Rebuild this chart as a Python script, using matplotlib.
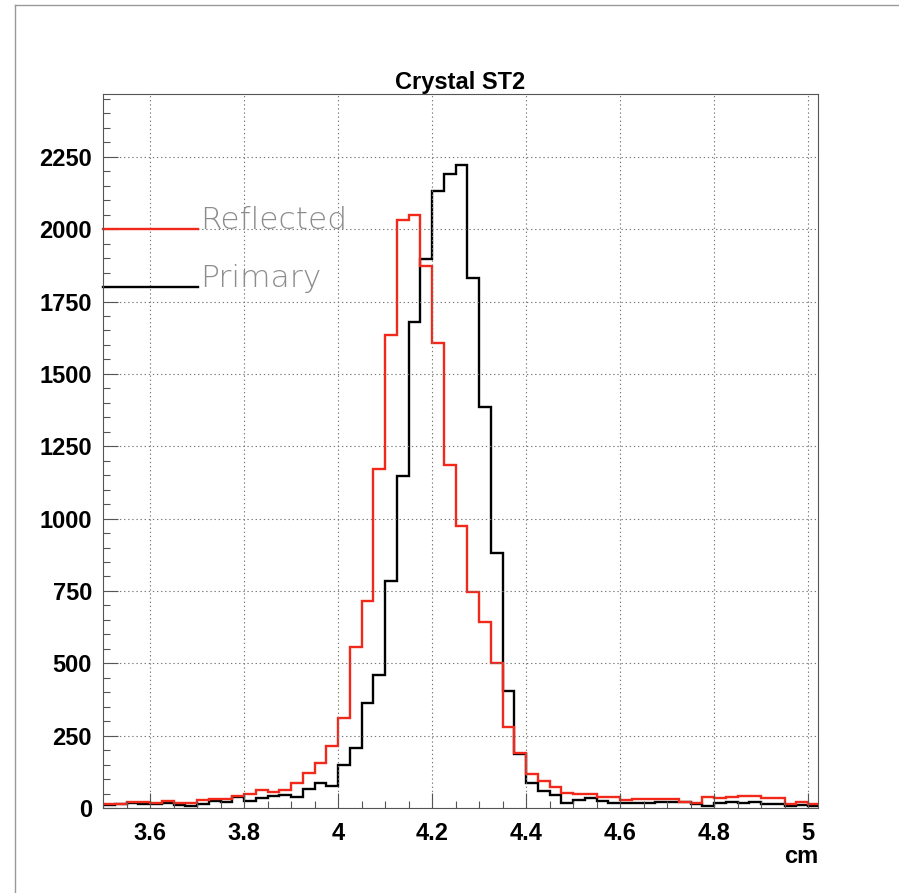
import numpy as np
import matplotlib.pyplot as plt
from matplotlib.lines import Line2D

# ======================
# data
# ======================
x_lo = 3.5
bin_w = 0.025

reflected = [14, 14, 20, 20, 16, 25, 19, 19, 28, 31,
             30, 40, 48, 62, 54, 62, 87, 122, 157, 214,
             310, 558, 715, 1171, 1633, 2032, 2048, 1874, 1607, 1186,
             976, 745, 642, 500, 281, 189, 116, 94, 73, 53,
             47, 47, 37, 37, 29, 31, 31, 31, 31, 22,
             18, 37, 33, 39, 41, 41, 33, 33, 13, 22,
             14]
primary = [10, 14, 16, 14, 14, 16, 10, 7, 14, 25,
           22, 37, 24, 33, 41, 45, 39, 64, 85, 77,
           149, 206, 362, 459, 785, 1146, 1680, 1897, 2131, 2192,
           2221, 1832, 1386, 881, 405, 187, 86, 60, 45, 19,
           28, 36, 25, 19, 19, 17, 17, 20, 22, 20,
           14, 8, 16, 20, 16, 22, 13, 13, 8, 10,
           8]

title = "Crystal ST2"
x_title = "cm"
legend_labels = ["Reflected", "Primary"]

edges = x_lo + bin_w * np.arange(len(reflected) + 1)

# ======================
# plot
# ======================
plt.rcParams['font.family'] = ['Liberation Sans', 'DejaVu Sans']

fig = plt.figure(figsize=(8.99, 8.93), dpi=100)
W, H = 899, 893
ax = fig.add_axes([103 / W, 85 / H, 715 / W, 713.7 / H])

red = '#f2281a'
ax.stairs(primary, edges, color='black', lw=1.7, baseline=None)
ax.stairs(reflected, edges, color=red, lw=1.7, baseline=None)

ax.set_xlim(3.5, 5.021)
ax.set_ylim(0, 2466)

ax.set_xticks(np.arange(3.6, 5.01, 0.2))
ax.set_xticklabels(['3.6', '3.8', '4', '4.2', '4.4', '4.6', '4.8', '5'])
ax.set_xticks(np.arange(3.5, 5.02, 0.05), minor=True)
ax.set_yticks(np.arange(0, 2251, 250))
ax.set_yticks(np.arange(0, 2451, 50), minor=True)

ax.grid(True, which='major', color='#777777', ls=(0, (1.2, 2.5)), lw=0.8)
ax.tick_params(which='major', direction='in', length=11, width=0.8, color='#555555',
               labelsize=17, pad=8)
ax.tick_params(which='minor', direction='in', length=5, width=0.8, color='#555555')
ax.tick_params(axis='x', pad=10)
for lab in ax.get_xticklabels() + ax.get_yticklabels():
    lab.set_fontweight('bold')
for sp in ax.spines.values():
    sp.set_color('#555555')
    sp.set_linewidth(0.8)

ax.set_title(title, fontsize=17, fontweight='bold', pad=4)
ax.text(1.0, -0.052, x_title, transform=ax.transAxes, ha='right', va='top',
        fontsize=17, fontweight='bold')

# legend drawn ROOT-style
leg_y = [0.811, 0.730]
for lab, col, yy in zip(legend_labels, [red, 'black'], leg_y):
    ax.add_line(Line2D([0, 0.133], [yy, yy], transform=ax.transAxes, color=col,
                       lw=1.7, clip_on=False))
    ax.text(0.136, yy, lab, transform=ax.transAxes, ha='left', va='baseline',
            fontsize=22.5, color='#8c8c8c', fontweight='ultralight',
            family=['DejaVu Sans'])

# canvas frame lines
fig.add_artist(Line2D([15 / W, 1], [1 - 5 / H, 1 - 5 / H], color='#999999', lw=1))
fig.add_artist(Line2D([15 / W, 15 / W], [0, 1 - 5 / H], color='#999999', lw=1))

fig.savefig('out.png', dpi=100, facecolor='white')
